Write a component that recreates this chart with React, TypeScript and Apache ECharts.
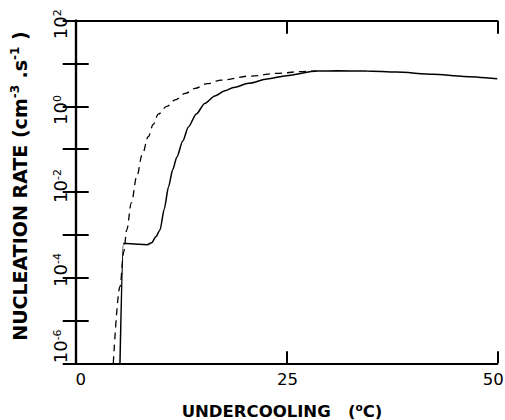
import React, { useEffect, useRef } from 'react';
import * as echarts from 'echarts';

// Solid curve (undercooling °C, nucleation rate cm^-3 s^-1)
const solidX = [5.25, 5.65, 6.5, 7.5, 8.5, 9.0, 9.5, 10.0, 10.5, 11.0, 11.5, 12.0, 12.7, 13.36, 14.3, 15.3, 16.5, 17.7, 18.7, 20.5, 22.7, 25, 28.6, 31, 34.5, 38, 42.4, 46, 50];
const solidY = [1e-6, 6.3e-4, 6.2e-4, 6.0e-4, 5.9e-4, 6.5e-4, 9.0e-4, 1.3e-3, 4.0e-3, 1.3e-2, 3.3e-2, 6.6e-2, 0.155, 0.33, 0.66, 1.17, 1.74, 2.3, 2.75, 3.45, 4.35, 5.2, 6.7, 6.75, 6.7, 6.3, 5.6, 5.0, 4.4];

// Dashed curve
const dashedX = [4.46, 5.25, 5.7, 6.05, 6.6, 7.24, 7.9, 8.6, 9.2, 9.8, 10.8, 11.8, 13, 14.15, 15.6, 17.3, 20.7, 24, 26.6, 28.6];
const dashedY = [1e-6, 6.2e-5, 4.0e-4, 1.3e-3, 5.6e-3, 2.3e-2, 7.6e-2, 0.195, 0.38, 0.66, 1.0, 1.41, 2.0, 2.63, 3.4, 4.1, 5.1, 5.9, 6.45, 6.75];

const xMin = 0;
const xMax = 50;
const xStep = 25;
const yMin = 1e-6;
const yMax = 1e2;
const yLabelExponents = [-6, -4, -2, 0, 2];

const FONT = 'DejaVu Sans';

// label offsets along the axis (px, + = down on screen) to mimic the hand placement
const yLabelShift: Record<string, number> = { '2': 3.5, '0': 3.7, '-2': -6, '-4': -7.7, '-6': -17 };

export default function App() {
  const ref = useRef<HTMLDivElement>(null);

  useEffect(() => {
    if (!ref.current) return;
    const chart = echarts.init(ref.current, null, { renderer: 'svg' });

    const key = (e: number) => (e < 0 ? 'n' + -e : 'p' + e);

    // Rotated text reads bottom-to-top: padding at the start (bottom) pushes glyphs up,
    // padding at the end (top) pushes glyphs down.
    const yRich: Record<string, any> = {};
    yLabelExponents.forEach((e) => {
      const d = yLabelShift[String(e)] || 0;
      yRich['b' + key(e)] = {
        fontFamily: FONT, fontSize: 18, color: '#000', lineHeight: 18,
        padding: [0, 0, 0, d < 0 ? -2 * d : 0],
      };
      yRich['s' + key(e)] = {
        fontFamily: FONT, fontSize: 11, color: '#000', verticalAlign: 'top',
        padding: [0, d > 0 ? 2 * d : 0, 0, 0],
      };
    });

    const yLabelFormatter = (v: number) => {
      const e = Math.round(Math.log10(v));
      if (!yLabelExponents.includes(e)) return '';
      const k = key(e);
      return `{b${k}|10}{s${k}|${e}}`;
    };

    const xLabelFormatter = (v: number) => {
      if (v === xMin) return `{l|${v}}`;
      if (v === xMax) return `{r|${v}}`;
      return `{m|${v}}`;
    };

    const baseY = {
      type: 'log' as const,
      logBase: 10,
      min: yMin,
      max: yMax,
      interval: 1,
      splitNumber: 8,
      splitLine: { show: false },
      axisLine: { show: true, lineStyle: { color: '#000', width: 2.2 } },
      axisTick: { show: true, inside: true, length: 13, lineStyle: { color: '#000', width: 2 } },
    };

    const baseX = {
      type: 'value' as const,
      min: xMin,
      max: xMax,
      interval: xStep,
      splitLine: { show: false },
      axisLine: { show: true, lineStyle: { color: '#000', width: 2.2 } },
      axisTick: { show: true, inside: true, length: 12, lineStyle: { color: '#000', width: 2 } },
    };

    const xl = { fontFamily: FONT, fontSize: 16.5, color: '#000' };

    chart.setOption({
      animation: false,
      backgroundColor: '#fff',
      grid: { left: 75.7, right: 7.7, top: 20.7, bottom: 56.7, outerBoundsMode: 'none', containLabel: false },
      xAxis: [
        {
          ...baseX,
          position: 'bottom',
          axisLabel: {
            show: true,
            margin: 8,
            fontFamily: FONT,
            fontSize: 16.5,
            color: '#000',
            formatter: xLabelFormatter,
            rich: {
              l: { ...xl, padding: [0, 0, 0, 10] },
              r: { ...xl, padding: [0, 8, 0, 0] },
              m: { ...xl, padding: [0, 0, 0, 2] },
            },
          },
        },
        {
          ...baseX,
          position: 'top',
          axisTick: { ...baseX.axisTick, length: 13 },
          axisLabel: { show: false },
        },
      ],
      yAxis: [
        {
          ...baseY,
          position: 'left',
          axisLabel: {
            show: true,
            rotate: 90,
            margin: 6,
            verticalAlign: 'bottom',
            align: 'center',
            formatter: yLabelFormatter,
            rich: yRich,
            showMinLabel: true,
            showMaxLabel: true,
          },
        },
        {
          ...baseY,
          position: 'right',
          axisLabel: { show: false },
        },
      ],
      series: [
        {
          type: 'line',
          xAxisIndex: 0,
          yAxisIndex: 0,
          data: solidX.map((x, i) => [x, solidY[i]]),
          showSymbol: false,
          symbol: 'none',
          smooth: 0.25,
          smoothMonotone: 'x',
          lineStyle: { color: '#000', width: 1.5 },
        },
        {
          type: 'line',
          xAxisIndex: 0,
          yAxisIndex: 0,
          data: dashedX.map((x, i) => [x, dashedY[i]]),
          showSymbol: false,
          symbol: 'none',
          smooth: 0.35,
          smoothMonotone: 'x',
          lineStyle: { color: '#000', width: 1.3, type: [7, 5] },
        },
      ],
      graphic: [
        {
          type: 'text',
          x: 20,
          y: 186,
          rotation: Math.PI / 2,
          style: {
            text: '{a|NUCLEATION RATE (cm}{s|-3}{a| .s}{s|-1}{a| )}',
            align: 'center',
            verticalAlign: 'middle',
            rich: {
              a: { fontFamily: FONT, fontWeight: 'bold', fontSize: 19, fill: '#000', lineHeight: 22 },
              s: { fontFamily: FONT, fontWeight: 'bold', fontSize: 12, fill: '#000', verticalAlign: 'top' },
            },
          },
        },
        {
          type: 'text',
          x: 282,
          y: 411,
          style: {
            text: '{a|UNDERCOOLING   (}{s|o}{a|C)}',
            align: 'center',
            verticalAlign: 'middle',
            rich: {
              a: { fontFamily: FONT, fontWeight: 'bold', fontSize: 16.5, fill: '#000', lineHeight: 20 },
              s: { fontFamily: FONT, fontWeight: 'bold', fontSize: 10.5, fill: '#000', verticalAlign: 'top' },
            },
          },
        },
      ],
    });

    return () => chart.dispose();
  }, []);

  return (
    <div
      ref={ref}
      style={{ position: 'fixed', left: 0, top: 0, width: 505, height: 420, background: '#fff' }}
    />
  );
}
